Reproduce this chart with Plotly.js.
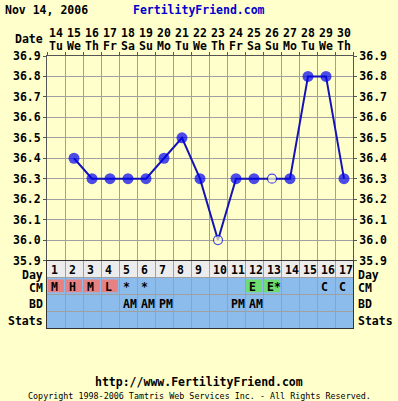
<!DOCTYPE html>
<html><head><meta charset="utf-8">
<script src="https://cdn.plot.ly/plotly-3.0.1.min.js"></script>
<style>html,body{margin:0;padding:0;background:#FFFFCC;}#chart{width:398px;height:401px;}</style>
</head><body><div id="chart"></div>
<script>
// ---- data ----
const cycleDays = [1,2,3,4,5,6,7,8,9,10,11,12,13,14,15,16,17];
const dates = ['14','15','16','17','18','19','20','21','22','23','24','25','26','27','28','29','30'];
const weekdays = ['Tu','We','Th','Fr','Sa','Su','Mo','Tu','We','Th','Fr','Sa','Su','Mo','Tu','We','Th'];
const temps = [null,36.4,36.3,36.3,36.3,36.3,36.4,36.5,36.3,36.0,36.3,36.3,36.3,36.3,36.8,36.8,36.3];
const openPoint = [false,false,false,false,false,false,false,false,false,true,false,false,true,false,false,false,false];
const cm = ['M','H','M','L','*','*','','','','','','E','E*','','','C','C'];
const cmType = ['red','red','red','red','','','','','','','','green','green','','','',''];
const bd = ['','','','','AM','AM','PM','','','','PM','AM','','','','',''];
const stats = ['','','','','','','','','','','','','','','','',''];
const tempTicks = [35.9,36.0,36.1,36.2,36.3,36.4,36.5,36.6,36.7,36.8,36.9];
const rowLabels = ['Day','CM','BD','Stats'];

// ---- styles ----
const W = 398, H = 401;
const BG = '#FFFFCC', GRID = '#A0A0A0', BORDER = '#555555';
const MONO = 'DejaVu Sans Mono';
const bold = (size, color) => ({family: MONO, size: size, weight: 'bold', color: color || '#000'});
const py = p => 1 - p / H;
const px = p => p / W;
const xDom = [px(47), px(353)];
const rowLabelPos = [0.85, 0.6, 0.6, 0.6];

const traces = [{
  x: cycleDays, y: temps, xaxis: 'x', yaxis: 'y', mode: 'lines+markers',
  line: {color: '#1414B4', width: 2},
  marker: {
    size: openPoint.map(o => o ? 9 : 11),
    color: openPoint.map(o => o ? BG : '#0000F0'),
    line: {color: '#0000F0', width: openPoint.map(o => o ? 1.2 : 0)}
  },
  hoverinfo: 'skip', showlegend: false
}, {
  x: cycleDays, y: temps, xaxis: 'x', yaxis: 'y3', mode: 'markers',
  marker: {opacity: 0}, hoverinfo: 'skip', showlegend: false
}, {
  x: cycleDays, y: cycleDays.map(() => 0.5), xaxis: 'x2', yaxis: 'y2', mode: 'markers',
  marker: {opacity: 0}, hoverinfo: 'skip', showlegend: false
}];

const bounds = [];
for (let i = 0; i <= cycleDays.length; i++) bounds.push(i + 0.5);

const shapes = [];
shapes.push({type: 'rect', xref: 'x2', yref: 'y2', x0: 0.5, x1: cycleDays.length + 0.5, y0: 0, y1: 1,
  fillcolor: '#ECECEC', line: {width: 0}, layer: 'below'});
shapes.push({type: 'rect', xref: 'x2', yref: 'y2', x0: 0.5, x1: cycleDays.length + 0.5, y0: 1, y1: 4,
  fillcolor: '#8CBCEC', line: {width: 0}, layer: 'below'});
cmType.forEach((t, i) => {
  if (!t) return;
  shapes.push({type: 'rect', xref: 'x2', yref: 'y2', x0: cycleDays[i] - 0.44, x1: cycleDays[i] + 0.44,
    y0: 1.12, y1: 1.88, fillcolor: t === 'red' ? '#E88282' : '#6EDC6E', line: {width: 0}, layer: 'between'});
});

const ann = [];
const A = (o) => ann.push(Object.assign({showarrow: false}, o));
A({text: 'Nov 14, 2006', xref: 'paper', yref: 'paper', x: px(3), y: py(10), xanchor: 'left', yanchor: 'middle', font: bold(11.5)});
A({text: 'FertilityFriend.com', xref: 'paper', yref: 'paper', x: 0.5, y: py(10), xanchor: 'center', yanchor: 'middle', font: bold(11.5, '#0000CC')});
A({text: 'Date', xref: 'paper', yref: 'paper', x: px(45), y: py(39), xanchor: 'right', yanchor: 'middle', font: bold(11.5)});
cycleDays.forEach((d, i) => {
  A({text: dates[i], xref: 'x', yref: 'paper', x: d - 0.5, y: py(33), xanchor: 'left', yanchor: 'middle', font: bold(11.5)});
  A({text: weekdays[i], xref: 'x', yref: 'paper', x: d - 0.5, y: py(46), xanchor: 'left', yanchor: 'middle', font: bold(11.5)});
});
rowLabels.forEach((r, j) => {
  A({text: r, xref: 'paper', yref: 'y2', x: px(45), y: j + rowLabelPos[j], xanchor: 'right', yanchor: 'middle', font: bold(11.5)});
  A({text: r, xref: 'paper', yref: 'y2', x: px(356), y: j + rowLabelPos[j], xanchor: 'left', yanchor: 'middle', font: bold(11.5)});
});
const rows = [cycleDays.map(String), cm, bd, stats];
rows.forEach((row, j) => {
  row.forEach((t, i) => {
    if (!t) return;
    A({text: t, xref: 'x2', yref: 'y2', x: cycleDays[i] - 0.5, xshift: 2, y: j + 0.55, xanchor: 'left', yanchor: 'middle', font: bold(11.5)});
  });
});
A({text: 'http://www.FertilityFriend.com', xref: 'paper', yref: 'paper', x: 0.5, y: py(382), xanchor: 'center', yanchor: 'middle', font: bold(11.5)});
A({text: 'Copyright 1998-2006 Tamtris Web Services Inc. - All Rights Reserved.', xref: 'paper', yref: 'paper', x: 0.5, y: py(396), xanchor: 'center', yanchor: 'middle', font: {family: MONO, size: 8.4, color: '#000'}});

const yAxisCommon = {
  range: [tempTicks[0], tempTicks[tempTicks.length - 1]], tickvals: tempTicks, ticktext: tempTicks.map(v => v.toFixed(1)),
  tickfont: bold(11.5), ticks: 'outside', ticklen: 3, tickcolor: BORDER, fixedrange: true, zeroline: false
};

const layout = {
  width: W, height: H, margin: {l: 0, r: 0, t: 0, b: 0},
  paper_bgcolor: BG, plot_bgcolor: BG, showlegend: false,
  xaxis: {domain: xDom, range: [0.5, cycleDays.length + 0.5], tickvals: bounds, showticklabels: false,
    ticks: 'outside', ticklen: 3, tickcolor: BORDER, side: 'top', anchor: 'y',
    showgrid: true, gridcolor: GRID, gridwidth: 1, showline: true, mirror: true, linecolor: BORDER, zeroline: false},
  yaxis: Object.assign({domain: [py(260.5), py(56)], anchor: 'x', side: 'left',
    showgrid: true, gridcolor: GRID, showline: true, mirror: true, linecolor: BORDER}, yAxisCommon),
  yaxis3: Object.assign({overlaying: 'y', anchor: 'x', side: 'right', showgrid: false, showline: false}, yAxisCommon),
  xaxis2: {domain: xDom, range: [0.5, cycleDays.length + 0.5], tickvals: bounds, showticklabels: false, ticks: '',
    anchor: 'y2', showgrid: true, gridcolor: GRID, showline: true, mirror: true, linecolor: '#333', zeroline: false},
  yaxis2: {domain: [py(328), py(260.5)], range: [4, 0], tickvals: [1, 2, 3], showticklabels: false, ticks: '',
    anchor: 'x2', showgrid: true, gridcolor: GRID, showline: true, mirror: true, linecolor: '#333', zeroline: false},
  shapes: shapes, annotations: ann
};

Plotly.newPlot('chart', traces, layout, {staticPlot: true, displayModeBar: false});
</script></body></html>
